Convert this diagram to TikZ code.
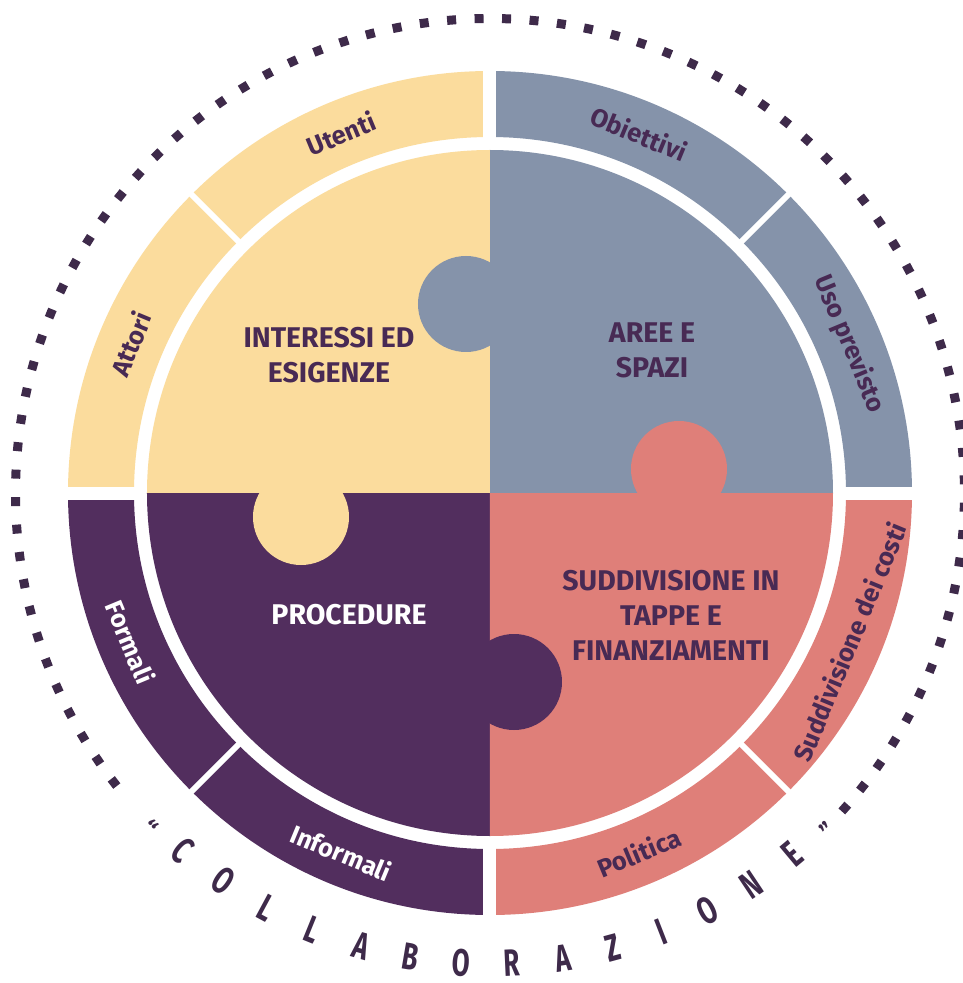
\documentclass[tikz,border=0pt]{standalone}
\usepackage{fontspec}
\setmainfont{Fira Sans}
\definecolor{cyel}{RGB}{251,220,157}
\definecolor{cblu}{RGB}{133,147,170}
\definecolor{cpur}{RGB}{82,46,94}
\definecolor{csal}{RGB}{223,127,121}
\definecolor{ctxt}{RGB}{72,42,84}
\definecolor{cdot}{RGB}{62,42,74}
\begin{document}
\begin{tikzpicture}[x=1pt,y=1pt,
  ringlab/.style={font=\fontsize{25.5}{25.5}\selectfont\bfseries, inner sep=0pt},
  mainlab/.style={font=\fontsize{28.5}{35}\selectfont\bfseries, align=center, inner sep=0pt},
  dotsq/.style={fill=cdot, minimum size=9pt, inner sep=0pt},
  collet/.style={font=\fontsize{38}{38}\selectfont\bfseries, text=cdot, inner sep=0pt},
  quot/.style={font=\fontsize{24}{24}\selectfont\bfseries, text=cdot, inner sep=0pt, anchor=north},
  ringband/.style={line width=66pt},
  majorgap/.style={draw=white, line width=13pt},
  minorgap/.style={draw=white, line width=6pt}]
\useasboundingbox (-490,-490) rectangle (473,493);
\fill[white] (-490,-490) rectangle (473,493);

% outer ring
\draw[ringband, cblu] (0:389) arc[start angle=0,end angle=90,radius=389];
\draw[ringband, cyel] (90:389) arc[start angle=90,end angle=180,radius=389];
\draw[ringband, cpur] (180:389) arc[start angle=180,end angle=270,radius=389];
\draw[ringband, csal] (270:389) arc[start angle=270,end angle=360,radius=389];
\foreach \a in {0,90,180,270} \draw[majorgap] (\a:349) -- (\a:432);
\foreach \a in {45,135,225,315} \draw[minorgap] (\a:349) -- (\a:432);

% inner puzzle quadrants
\fill[cblu] (0,0) -- (0:343) arc[start angle=0,end angle=90,radius=343] -- cycle;
\fill[cyel] (0,0) -- (90:343) arc[start angle=90,end angle=180,radius=343] -- cycle;
\fill[cpur] (0,0) -- (180:343) arc[start angle=180,end angle=270,radius=343] -- cycle;
\fill[csal] (0,0) -- (270:343) arc[start angle=270,end angle=360,radius=343] -- cycle;
% knobs
\fill[cblu] (-24,189) circle[radius=48];
\fill[csal] (189,24) circle[radius=48];
\fill[cpur] (24,-189) circle[radius=48];
\fill[cyel] (-189,-24) circle[radius=48];

% main labels
\node[mainlab, text=ctxt] (interessi) at (-161,138) {INTERESSI ED\\ESIGENZE};
\node[mainlab, text=ctxt] (aree) at (162,143) {AREE E\\SPAZI};
\node[mainlab, text=white] (procedure) at (-141,-122) {PROCEDURE};
\node[mainlab, text=ctxt] (suddivisione) at (181,-122) {SUDDIVISIONE IN\\TAPPE E\\FINANZIAMENTI};

% ring labels
\node[ringlab, text=ctxt, rotate=22.5] (utenti) at (112.5:389) {Utenti};
\node[ringlab, text=ctxt, rotate=67.5] (attori) at (157.5:389) {Attori};
\node[ringlab, text=ctxt, rotate=-22.5] (obiettivi) at (67.5:389) {Obiettivi};
\node[ringlab, text=ctxt, rotate=-67.5] (uso) at (22.5:389) {Uso previsto};
\node[ringlab, text=ctxt, rotate=67.5] (costi) at (-22.5:389) {Suddivisione dei costi};
\node[ringlab, text=ctxt, rotate=22.5] (politica) at (-67.5:389) {Politica};
\node[ringlab, text=white, rotate=-22.5] (informali) at (-112.5:389) {Informali};
\node[ringlab, text=white, rotate=-67.5] (formali) at (-157.5:389) {Formali};

% dotted arc
\foreach \k in {0,...,78} {
  \pgfmathsetmacro\ang{-41.6+\k*3.323}
  \node[dotsq, rotate=\ang] (dot\k) at (\ang:474.5) {};
}
% COLLABORAZIONE
\foreach \ch [count=\i from 0] in {C,O,L,L,A,B,O,R,A,Z,I,O,N,E} {
  \pgfmathsetmacro\ang{229.3+\i*6.2}
  \pgfmathsetmacro\rot{\ang+90}
  \node[collet, rotate=\rot] (let\i) at (\ang:471) {\scalebox{0.68}[1]{\ch}};
}
\node[quot, rotate=314.5] (qopen) at (224.5:468) {“};
\node[quot, rotate=405] (qclose) at (315:468) {”};
\end{tikzpicture}
\end{document}
